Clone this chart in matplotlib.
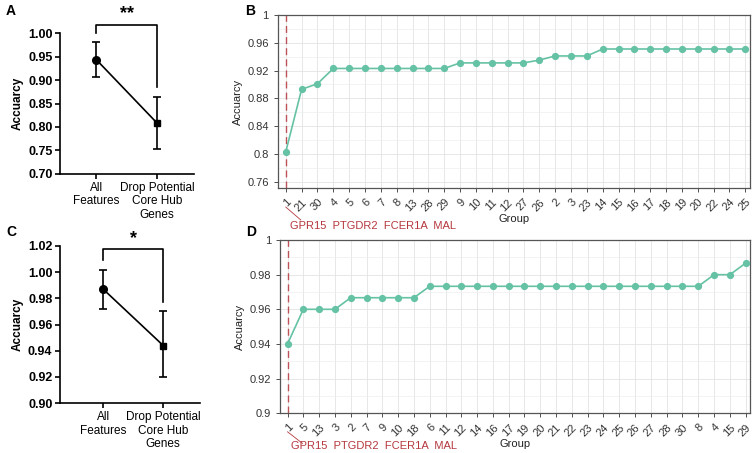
import matplotlib
matplotlib.use("Agg")
import matplotlib.pyplot as plt
from matplotlib.ticker import MultipleLocator, FormatStrFormatter
from matplotlib.transforms import blended_transform_factory

plt.rcParams['font.family'] = ['Liberation Sans', 'DejaVu Sans']

# left panels (A, C): mean accuracy with error range
cond_labels = ['All\nFeatures', 'Drop Potential\nCore Hub\nGenes']
acc_A = [0.943, 0.808]
lo_A = [0.906, 0.754]
hi_A = [0.981, 0.863]
acc_C = [0.987, 0.944]
lo_C = [0.972, 0.920]
hi_C = [1.002, 0.970]

# right panels (B, D): accuracy by group order
groups_B = ['1', '21', '30', '4', '5', '6', '7', '8', '13', '28', '29', '9', '10', '11', '12',
            '27', '26', '2', '3', '23', '14', '15', '16', '17', '18', '19', '20', '22', '24', '25']
acc_B = [0.803, 0.893, 0.901, 0.923, 0.923, 0.923, 0.923, 0.923, 0.923, 0.923, 0.923,
         0.931, 0.931, 0.931, 0.931, 0.931, 0.935, 0.941, 0.941, 0.941,
         0.951, 0.951, 0.951, 0.951, 0.951, 0.951, 0.951, 0.951, 0.951, 0.951]
groups_D = ['1', '5', '13', '3', '2', '7', '9', '10', '18', '6', '11', '12', '14', '16', '17',
            '19', '20', '21', '22', '23', '24', '25', '26', '27', '28', '30', '8', '4', '15', '29']
acc_D = [0.940, 0.960, 0.960, 0.960, 0.9667, 0.9667, 0.9667, 0.9667, 0.9667,
         0.9733, 0.9733, 0.9733, 0.9733, 0.9733, 0.9733, 0.9733, 0.9733, 0.9733,
         0.9733, 0.9733, 0.9733, 0.9733, 0.9733, 0.9733, 0.9733, 0.9733, 0.9733,
         0.980, 0.980, 0.9867]
gene_text = 'GPR15  PTGDR2  FCER1A  MAL'

TEAL = '#66C2A5'
RED = '#B5383F'

fig = plt.figure(figsize=(7.55, 4.53), dpi=100)


def left_panel(rect, acc, lo, hi, ylim, step, xlim, stars, br):
    ax = fig.add_axes(rect)
    x = [0, 1]
    ax.plot(x, acc, color='black', lw=1.2, zorder=2)
    ax.errorbar([0], [acc[0]], yerr=[[acc[0] - lo[0]], [hi[0] - acc[0]]], fmt='o',
                color='black', ms=5.5, capsize=3, elinewidth=1.2, capthick=1.2)
    ax.errorbar([1], [acc[1]], yerr=[[acc[1] - lo[1]], [hi[1] - acc[1]]], fmt='s',
                color='black', ms=5, capsize=3, elinewidth=1.2, capthick=1.2)
    ax.set_xlim(*xlim)
    ax.set_ylim(*ylim)
    ax.yaxis.set_major_locator(MultipleLocator(step))
    ax.yaxis.set_major_formatter(FormatStrFormatter('%.2f'))
    ax.set_xticks(x)
    ax.set_xticklabels(cond_labels, fontsize=8.5)
    for t in ax.get_yticklabels():
        t.set_fontweight('bold')
        t.set_fontsize(9)
    ax.set_ylabel('Accuarcy', fontsize=8.5, fontweight='bold', labelpad=3)
    for s in ['top', 'right']:
        ax.spines[s].set_visible(False)
    for s in ['left', 'bottom']:
        ax.spines[s].set_linewidth(1.2)
    ax.tick_params(width=1.2, length=3.5, pad=2)
    top, l_end, r_end = br
    ax.plot([0, 0, 1, 1], [l_end, top, top, r_end], color='black', lw=1.2, clip_on=False)
    ax.text(0.5, top + (ylim[1] - ylim[0]) * 0.015, stars, ha='center', va='bottom',
            fontsize=13, fontweight='bold')
    return ax


def right_panel(rect, groups, acc, ylim, ymajor, xlim, line_y, text_y):
    ax = fig.add_axes(rect)
    x = list(range(len(groups)))
    ax.set_axisbelow(True)
    ax.grid(True, which='major', color='#E3E3E3', lw=0.6)
    ax.yaxis.set_minor_locator(MultipleLocator(ymajor / 2))
    ax.grid(True, which='minor', axis='y', color='#EEEEEE', lw=0.5)
    ax.axvline(0, color=RED, ls=(0, (5, 3)), lw=1.0, alpha=0.85)
    ax.plot(x, acc, color=TEAL, lw=1.2, marker='o', ms=4.2, zorder=3)
    ax.set_xlim(*xlim)
    ax.set_ylim(*ylim)
    ax.yaxis.set_major_locator(MultipleLocator(ymajor))
    ax.yaxis.set_major_formatter(FormatStrFormatter('%g'))
    ax.set_xticks(x)
    ax.set_xticklabels(groups, rotation=45, ha='right', rotation_mode='anchor')
    ax.tick_params(axis='both', which='major', labelsize=8, colors='#333333',
                   labelcolor='#333333', length=3, width=0.6)
    ax.tick_params(axis='y', which='minor', length=0)
    ax.set_ylabel('Accuarcy', fontsize=8, color='#222222', labelpad=3)
    ax.set_xlabel('Group', fontsize=8, color='#222222', labelpad=1)
    for s in ax.spines.values():
        s.set_color('#555555')
        s.set_linewidth(0.9)
    tr = blended_transform_factory(ax.transData, ax.transAxes)
    ax.plot([0, 0.95], line_y, color=RED, lw=0.6, transform=tr, clip_on=False)
    ax.text(0.25, text_y, gene_text, color=RED, fontsize=8, ha='left', va='center',
            transform=tr)
    return ax


left_panel([0.0795, 0.616, 0.177, 0.311], acc_A, lo_A, hi_A, (0.70, 1.00), 0.05,
           (-0.6, 1.6), '**', (1.018, 1.0, 0.885))
left_panel([0.0795, 0.110, 0.186, 0.347], acc_C, lo_C, hi_C, (0.90, 1.02), 0.02,
           (-0.72, 1.62), '*', (1.0175, 1.009, 0.977))

right_panel([0.368, 0.585, 0.625, 0.382], groups_B, acc_B, (0.751, 1.0), 0.04,
            (-0.5, 29.28), (-0.11, -0.185), -0.22)
right_panel([0.371, 0.088, 0.6225, 0.382], groups_D, acc_D, (0.9, 1.0), 0.02,
            (-0.47, 29.28), (-0.108, -0.175), -0.19)

for lbl, xx, yy in [('A', 0.008, 0.975), ('B', 0.325, 0.975),
                    ('C', 0.008, 0.488), ('D', 0.326, 0.488)]:
    fig.text(xx, yy, lbl, fontsize=10, fontweight='bold', ha='left', va='center')

fig.savefig('out.png', dpi=100)
